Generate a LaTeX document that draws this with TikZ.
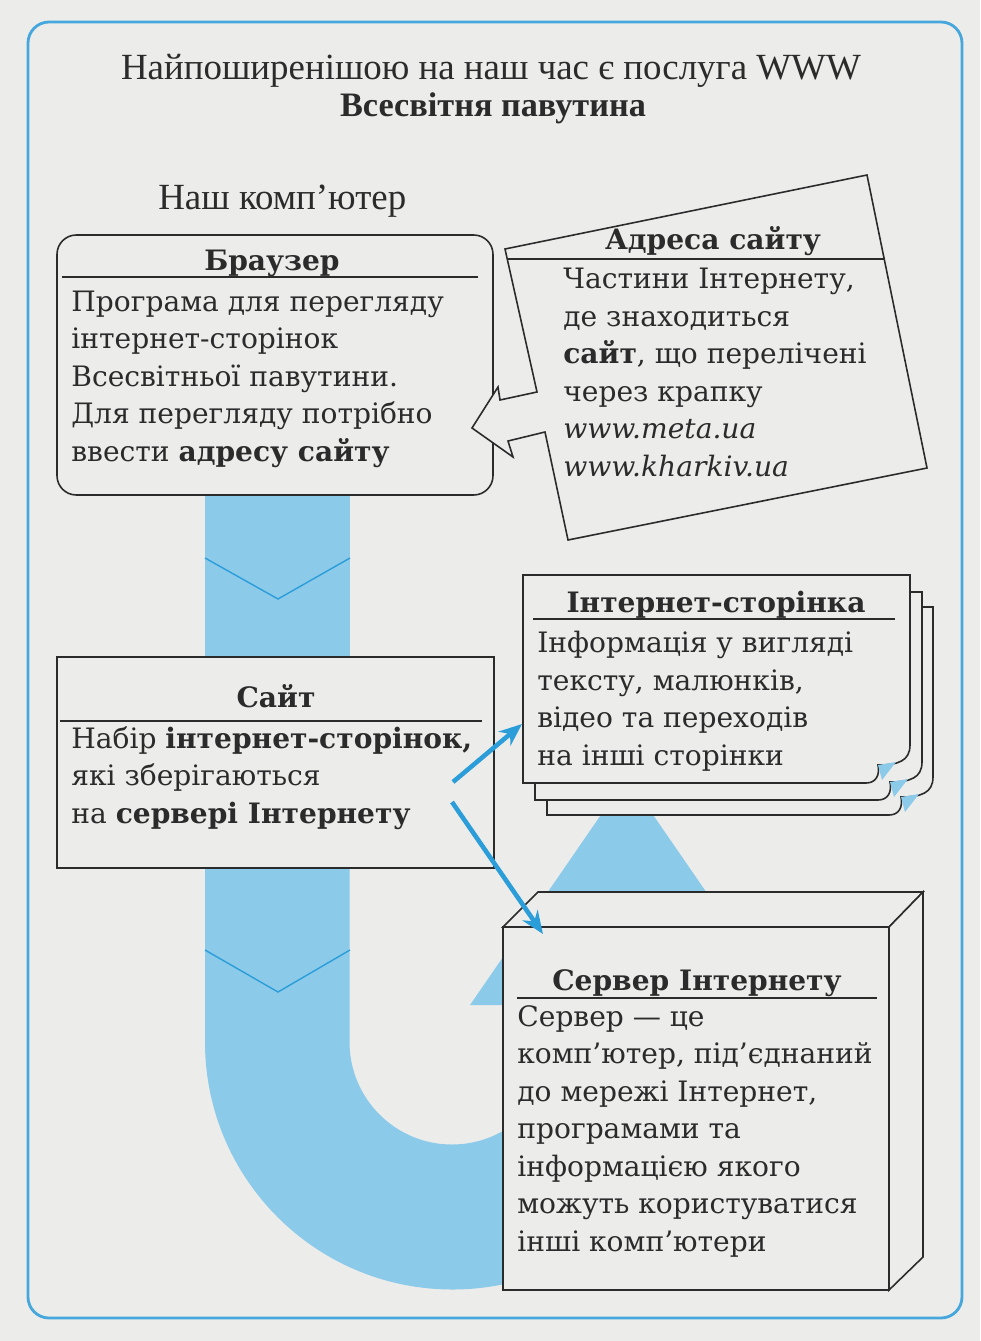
\documentclass[tikz,border=0pt]{standalone}
\usepackage{fontspec}
\setmainfont{DejaVu Serif}
\newfontfamily\titlefont{Liberation Serif}
\usetikzlibrary{arrows.meta}
\definecolor{pagegray}{HTML}{ECECEB}
\definecolor{bandblue}{HTML}{8CCAEA}
\definecolor{lineblue}{HTML}{2B9DD9}
\definecolor{frameblue}{HTML}{45A7DC}
\definecolor{ink}{HTML}{2B2B2B}
% one sheet of the stack: x0,y0,x1,y1 (curled corner bottom right)
\newcommand{\websheet}[4]{%
\path[box] (#1,#2) -- (#3,#2) -- (#3,#4-38) .. controls (#3,#4-22) and (#3-12,#4-18) .. (#3-32,#4-18)
  .. controls (#3-30,#4-8) and (#3-34,#4) .. (#3-44,#4) -- (#1,#4) -- cycle;
\fill[bandblue] (#3-32,#4-18) -- (#3-14,#4-21) -- (#3-28,#4-3) -- cycle;}
\begin{document}
\begin{tikzpicture}[x=0.02cm, y=-0.02cm, >={Stealth[length=13pt,width=10.5pt]},
  box/.style={draw=ink, line width=0.9pt, fill=pagegray},
  body/.style={anchor=base west, align=left, inner sep=0pt, text=ink, font=\fontsize{16}{21.34}\selectfont},
  head/.style={anchor=base, inner sep=0pt, text=ink, font=\fontsize{16}{21.34}\selectfont\bfseries},
  rule/.style={draw=ink, line width=0.7pt},
  link/.style={draw=lineblue, line width=2.6pt, ->}]
\useasboundingbox (0,0) rectangle (980,1341);
\fill[pagegray] (0,0) rectangle (980,1341);
\draw[frameblue, line width=1.6pt, rounded corners=12pt] (28,22) rectangle (962,1318);

% titles (multi-line nodes below sit on their last baseline)
\node[anchor=base, inner sep=0pt, text=ink, font=\titlefont\fontsize{21}{25}\selectfont] (title) at (491,80) {Найпоширенішою на наш час є послуга WWW};
\node[anchor=base, inner sep=0pt, text=ink, font=\titlefont\fontsize{19.5}{25}\selectfont\bfseries] (www) at (493,117) {Всесвітня павутина};
\node[anchor=base west, inner sep=0pt, text=ink, font=\titlefont\fontsize{21}{25}\selectfont] (ourpc) at (158,210) {Наш комп’ютер};

% the blue U-band with its head
\fill[bandblue] (205,480) -- (205,1042) arc[start angle=180, end angle=0, radius=247.5] -- (699.5,1005) -- (784,1005)
  -- (627,777) -- (470,1005) -- (554.5,1005) -- (554.5,1042) arc[start angle=0, end angle=180, radius=102.5] -- (350,480) -- cycle;
\draw[lineblue, line width=0.8pt] (205,558) -- (278,599) -- (350,558);
\draw[lineblue, line width=0.8pt] (205,950) -- (278,992) -- (350,950);

% browser
\draw[box, rounded corners=11pt] (57,235) rectangle (493,495);
\node[head] (browserhead) at (272,271) {Браузер};
\draw[rule] (62,277) -- (478,277);
\node[body] (browser) at (71,461) {Програма для перегляду\\інтернет-сторінок\\Всесвітньої павутини.\\Для перегляду потрібно\\ввести \textbf{адресу сайту}};

% address callout
\draw[box] (505,249) -- (867,175) -- (927,468) -- (568,540) -- (545,432) -- (508,441) -- (513,457) -- (472,428)
  -- (498,387) -- (500,400) -- (537,392) -- cycle;
\node[head] (addresshead) at (713,250) {Адреса сайту};
\draw[rule] (507,259) -- (884,259);
\node[body] (address) at (563,476) {Частини Інтернету,\\де знаходиться\\\textbf{сайт}, що перелічені\\через крапку\\\textit{www.meta.ua}\\\textit{www.kharkiv.ua}};

% web page stack
\websheet{547}{607}{933}{815}
\websheet{535}{592}{922}{800}
\websheet{523}{575}{910}{783}
\node[head] (pagehead) at (716,612) {Інтернет-сторінка};
\draw[rule] (533,619) -- (895,619);
\node[body] (page) at (537,765) {Інформація у вигляді\\тексту, малюнків,\\відео та переходів\\на інші сторінки};

% site
\draw[box] (57,657) rectangle (494,868);
\node[head] (sitehead) at (276,707) {Сайт};
\draw[rule] (60,721) -- (482,721);
\node[body] (site) at (71,823) {Набір \textbf{інтернет-сторінок,}\\які зберігаються\\на \textbf{сервері Інтернету}};

% server
\draw[box] (503,927) -- (538,892) -- (923,892) -- (889,927) -- cycle;
\draw[box] (889,927) -- (923,892) -- (923,1257) -- (889,1290) -- cycle;
\draw[box] (503,927) rectangle (889,1290);
\node[head] (serverhead) at (697,990) {Сервер Інтернету};
\draw[rule] (517,998) -- (877,998);
\node[body] (server) at (517,1251) {Сервер — це\\комп’ютер, під’єднаний\\до мережі Інтернет,\\програмами та\\інформацією якого\\можуть користуватися\\інші комп’ютери};

% links from the site
\coordinate (siteup) at (453,782);
\coordinate (sitedown) at (452,802);
\coordinate (pagein) at (522,724);
\coordinate (serverin) at (543,934);
\draw[link] (siteup) -- (pagein);
\draw[link] (sitedown) -- (serverin);
\end{tikzpicture}
\end{document}
